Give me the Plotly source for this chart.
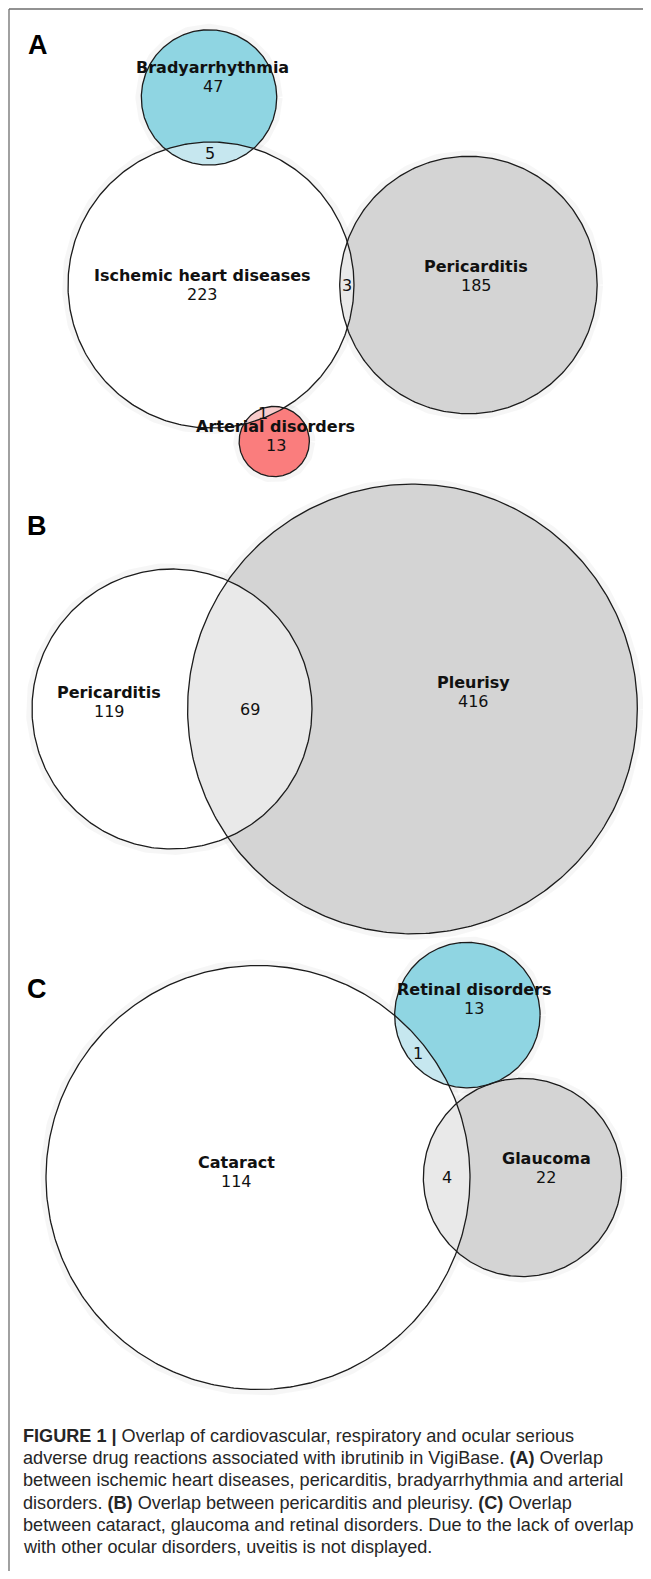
import numpy as np
import plotly.graph_objects as go

# ---------------- data ----------------
# Panel A: ischemic heart diseases is the hub; other sets only overlap with it
a_names = ["Ischemic heart diseases", "Pericarditis", "Bradyarrhythmia", "Arterial disorders"]
a_exclusive = [223, 185, 47, 13]
a_overlap_with_hub = [0, 3, 5, 1]

# Panel B
b_names = ["Pericarditis", "Pleurisy"]
b_exclusive = [119, 416]
b_overlap_with_hub = [0, 69]

# Panel C: cataract is the hub
c_names = ["Cataract", "Retinal disorders", "Glaucoma"]
c_exclusive = [114, 13, 22]
c_overlap_with_hub = [0, 1, 4]

caption_lines = [
    "<b>FIGURE 1 |</b> Overlap of cardiovascular, respiratory and ocular serious",
    "adverse drug reactions associated with ibrutinib in VigiBase. <b>(A)</b> Overlap",
    "between ischemic heart diseases, pericarditis, bradyarrhythmia and arterial",
    "disorders. <b>(B)</b> Overlap between pericarditis and pleurisy. <b>(C)</b> Overlap",
    "between cataract, glaucoma and retinal disorders. Due to the lack of overlap",
    "with other ocular disorders, uveitis is not displayed.",
]

# ---------------- layout / style ----------------
PAGE_W, PAGE_H = 651, 1579
BODY = 8  # default page margin around the plot div
FIG_W, FIG_H = PAGE_W - 2 * BODY, PAGE_H - 2 * BODY
WHITE, BLUE, BLUE_L = "#ffffff", "#8fd5e2", "#c6e7ef"
GREY, GREY_L, RED, RED_L = "#d4d4d4", "#e9e9e9", "#fa7d7d", "#f8cbcb"

panels = [
    dict(names=a_names, excl=a_exclusive, ov=a_overlap_with_hub, letter="A", letter_pos=(38, 45),
         hub=(211, 285), hub_r=143, angles=[None, 0.0, -90.6, 68.0],
         fills=[WHITE, GREY, BLUE, RED], lens_fills=[None, GREY_L, BLUE_L, RED_L],
         offsets=[(-8.5, 9), (8, 0.5), (3.5, -11), (1.5, 4)]),
    dict(names=b_names, excl=b_exclusive, ov=b_overlap_with_hub, letter="B", letter_pos=(37, 526),
         hub=(172, 709), hub_r=140, angles=[None, 0.0],
         fills=[WHITE, GREY], lens_fills=[None, GREY_L],
         offsets=[(-63, 2), (61, -8)]),
    dict(names=c_names, excl=c_exclusive, ov=c_overlap_with_hub, letter="C", letter_pos=(37, 989),
         hub=(258, 1177.5), hub_r=212, angles=[None, -37.8, 0.0],
         fills=[WHITE, BLUE, GREY], lens_fills=[None, BLUE_L, GREY_L],
         offsets=[(-22, 3.5), (7, -7), (24, 0)]),
]


def lens_area(r1, r2, d):
    if d >= r1 + r2:
        return 0.0
    if d <= abs(r1 - r2):
        return np.pi * min(r1, r2) ** 2
    a1 = np.arccos((d * d + r1 * r1 - r2 * r2) / (2 * d * r1))
    a2 = np.arccos((d * d + r2 * r2 - r1 * r1) / (2 * d * r2))
    k = (-d + r1 + r2) * (d + r1 - r2) * (d - r1 + r2) * (d + r1 + r2)
    return r1 * r1 * a1 + r2 * r2 * a2 - 0.5 * np.sqrt(max(k, 0))


def solve_distance(r1, r2, target):
    lo, hi = abs(r1 - r2) + 1e-9, r1 + r2
    for _ in range(200):
        mid = 0.5 * (lo + hi)
        if lens_area(r1, r2, mid) > target:
            lo = mid
        else:
            hi = mid
    return 0.5 * (lo + hi)


def circle_pts(c, r, n=400):
    t = np.linspace(0, 2 * np.pi, n)
    return c[0] + r * np.cos(t), c[1] + r * np.sin(t)


def lens_pts(c1, r1, c2, r2, n=120):
    dx, dy = c2[0] - c1[0], c2[1] - c1[1]
    d = np.hypot(dx, dy)
    th = np.arctan2(dy, dx)
    a = (d * d + r1 * r1 - r2 * r2) / (2 * d)
    al1 = np.arccos(np.clip(a / r1, -1, 1))
    al2 = np.arccos(np.clip((d - a) / r2, -1, 1))
    t1 = np.linspace(th - al1, th + al1, n)
    t2 = np.linspace(th + np.pi - al2, th + np.pi + al2, n)
    xs = np.concatenate([c1[0] + r1 * np.cos(t1), c2[0] + r2 * np.cos(t2)])
    ys = np.concatenate([c1[1] + r1 * np.sin(t1), c2[1] + r2 * np.sin(t2)])
    return xs, ys


fig = go.Figure()
annotations = []
halo_traces, fill_traces, lens_traces, line_traces = [], [], [], []

for p in panels:
    totals = [p["excl"][i] + (sum(p["ov"]) if i == 0 else p["ov"][i]) for i in range(len(p["excl"]))]
    px_per_unit = np.pi * p["hub_r"] ** 2 / totals[0]
    radii = [np.sqrt(t * px_per_unit / np.pi) for t in totals]
    centers = [p["hub"]]
    for i in range(1, len(totals)):
        d = solve_distance(radii[0], radii[i], p["ov"][i] * px_per_unit)
        ang = np.deg2rad(p["angles"][i])
        centers.append((p["hub"][0] + d * np.cos(ang), p["hub"][1] + d * np.sin(ang)))

    for i, (c, r) in enumerate(zip(centers, radii)):
        x, y = circle_pts(c, r)
        halo_traces.append(go.Scatter(x=x, y=y, mode="lines", line=dict(color="rgba(0,0,0,0.035)", width=12),
                                      hoverinfo="skip"))
        fill_traces.append(go.Scatter(x=x, y=y, mode="lines", fill="toself", fillcolor=p["fills"][i],
                                      line=dict(width=0, color=p["fills"][i]), hoverinfo="skip"))
        line_traces.append(go.Scatter(x=x, y=y, mode="lines", line=dict(color="#1c1c1c", width=1.3),
                                      hoverinfo="skip"))
        # exclusive-region labels
        lx, ly = c[0] + p["offsets"][i][0], c[1] + p["offsets"][i][1]
        annotations.append(dict(x=lx, y=ly, text=str(p["excl"][i]), showarrow=False,
                                font=dict(family="DejaVu Sans", size=16, color="#111")))
        annotations.append(dict(x=lx, y=ly - 18.7, text="<b>%s</b>" % p["names"][i], showarrow=False,
                                font=dict(family="DejaVu Sans", size=16, color="#111")))

    for i in range(1, len(totals)):
        lx, ly = lens_pts(centers[0], radii[0], centers[i], radii[i])
        lens_traces.append(go.Scatter(x=lx, y=ly, mode="lines", fill="toself", fillcolor=p["lens_fills"][i],
                                      line=dict(width=0, color=p["lens_fills"][i]), hoverinfo="skip"))
        dx, dy = centers[i][0] - centers[0][0], centers[i][1] - centers[0][1]
        dd = np.hypot(dx, dy)
        ux, uy = dx / dd, dy / dd
        e1 = (centers[0][0] + radii[0] * ux, centers[0][1] + radii[0] * uy)
        e2 = (centers[i][0] - radii[i] * ux, centers[i][1] - radii[i] * uy)
        annotations.append(dict(x=(e1[0] + e2[0]) / 2, y=(e1[1] + e2[1]) / 2, text=str(p["ov"][i]),
                                showarrow=False, font=dict(family="DejaVu Sans", size=16, color="#111")))

    annotations.append(dict(x=p["letter_pos"][0], y=p["letter_pos"][1], text="<b>%s</b>" % p["letter"],
                            showarrow=False, font=dict(family="Liberation Sans", size=27, color="#000")))

for t in halo_traces + fill_traces + lens_traces + line_traces:
    fig.add_trace(t)

cap_y0, cap_dy = 1436, 22.2
for k, line in enumerate(caption_lines):
    annotations.append(dict(x=21, y=cap_y0 + k * cap_dy, text=line, showarrow=False, xanchor="left",
                            font=dict(family="Liberation Sans", size=18.1, color="#262626")))

# axes expressed in page pixels so that the plot div offset is compensated
fig.update_layout(
    width=FIG_W, height=FIG_H, margin=dict(l=0, r=0, t=0, b=0),
    paper_bgcolor="white", plot_bgcolor="white", showlegend=False,
    xaxis=dict(range=[BODY, BODY + FIG_W], visible=False, fixedrange=True),
    yaxis=dict(range=[BODY + FIG_H, BODY], visible=False, fixedrange=True),
    annotations=annotations,
    shapes=[
        dict(type="line", xref="x", yref="y", x0=9, x1=BODY + FIG_W, y0=9, y1=9,
             line=dict(color="#6e6e6e", width=1.3)),
        dict(type="line", xref="x", yref="y", x0=9, x1=9, y0=9, y1=BODY + FIG_H,
             line=dict(color="#6e6e6e", width=1.3)),
    ],
)

fig.write_html("out.html")
